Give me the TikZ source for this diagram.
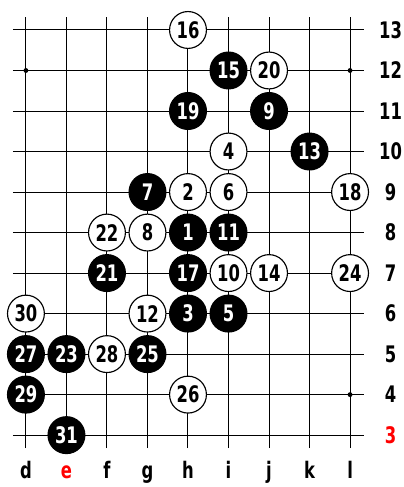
\documentclass[tikz,border=0pt]{standalone}
\usepackage{fontspec}
\newfontfamily\gofont{DejaVu Sans}
\newcommand{\narrowtxt}[1]{\scalebox{0.72}[1]{#1}}
\tikzset{
  stone/.style={circle, draw=black, line width=0.8pt, minimum size=0.91cm, inner sep=0pt,
    font=\gofont\bfseries\fontsize{16}{18}\selectfont},
  bstone/.style={stone, fill=black, text=white},
  wstone/.style={stone, fill=white, text=black},
  coordlabel/.style={inner sep=0pt, font=\gofont\bfseries\fontsize{16}{18}\selectfont}
}
\begin{document}
\begin{tikzpicture}[x=1cm,y=1cm]
\useasboundingbox (-0.64,-1.28) rectangle (9.31,10.74);
% board
\foreach \i in {0,...,10}
  \draw[line width=0.7pt] (-0.32,\i) -- (8.35,\i);
\foreach \i in {0,...,8}
  \draw[line width=0.7pt] (\i,-0.32) -- (\i,10.32);
\foreach \p in {(0,9),(8,9),(8,1)}
  \fill \p circle (0.06);
% coordinates
\foreach \l/\i in {d/0,f/2,g/3,h/4,i/5,j/6,k/7,l/8}
  \node[coordlabel, anchor=base] (col\l) at (\i,-1.08) {\narrowtxt{\l}};
\node[coordlabel, anchor=base, text=red] (cole) at (1,-1.08) {\narrowtxt{e}};
\foreach \n in {4,...,13}
  \node[coordlabel] (row\n) at (9.0,\n-3) {\narrowtxt{\n}};
\node[coordlabel, text=red] (row3) at (9.0,0) {\narrowtxt{3}};
% black stones
\foreach \n/\x/\y in {1/4/5, 3/4/3, 5/5/3, 7/3/6, 9/6/8, 11/5/5, 13/7/7, 15/5/9,
    17/4/4, 19/4/8, 21/2/4, 23/1/2, 25/3/2, 27/0/2, 29/0/1, 31/1/0}
  \node[bstone] (m\n) at (\x,\y) {\narrowtxt{\n}};
% white stones
\foreach \n/\x/\y in {2/4/6, 4/5/7, 6/5/6, 8/3/5, 10/5/4, 12/3/3, 14/6/4, 16/4/10,
    18/8/6, 20/6/9, 22/2/5, 24/8/4, 26/4/1, 28/2/2, 30/0/3}
  \node[wstone] (m\n) at (\x,\y) {\narrowtxt{\n}};
\end{tikzpicture}
\end{document}
